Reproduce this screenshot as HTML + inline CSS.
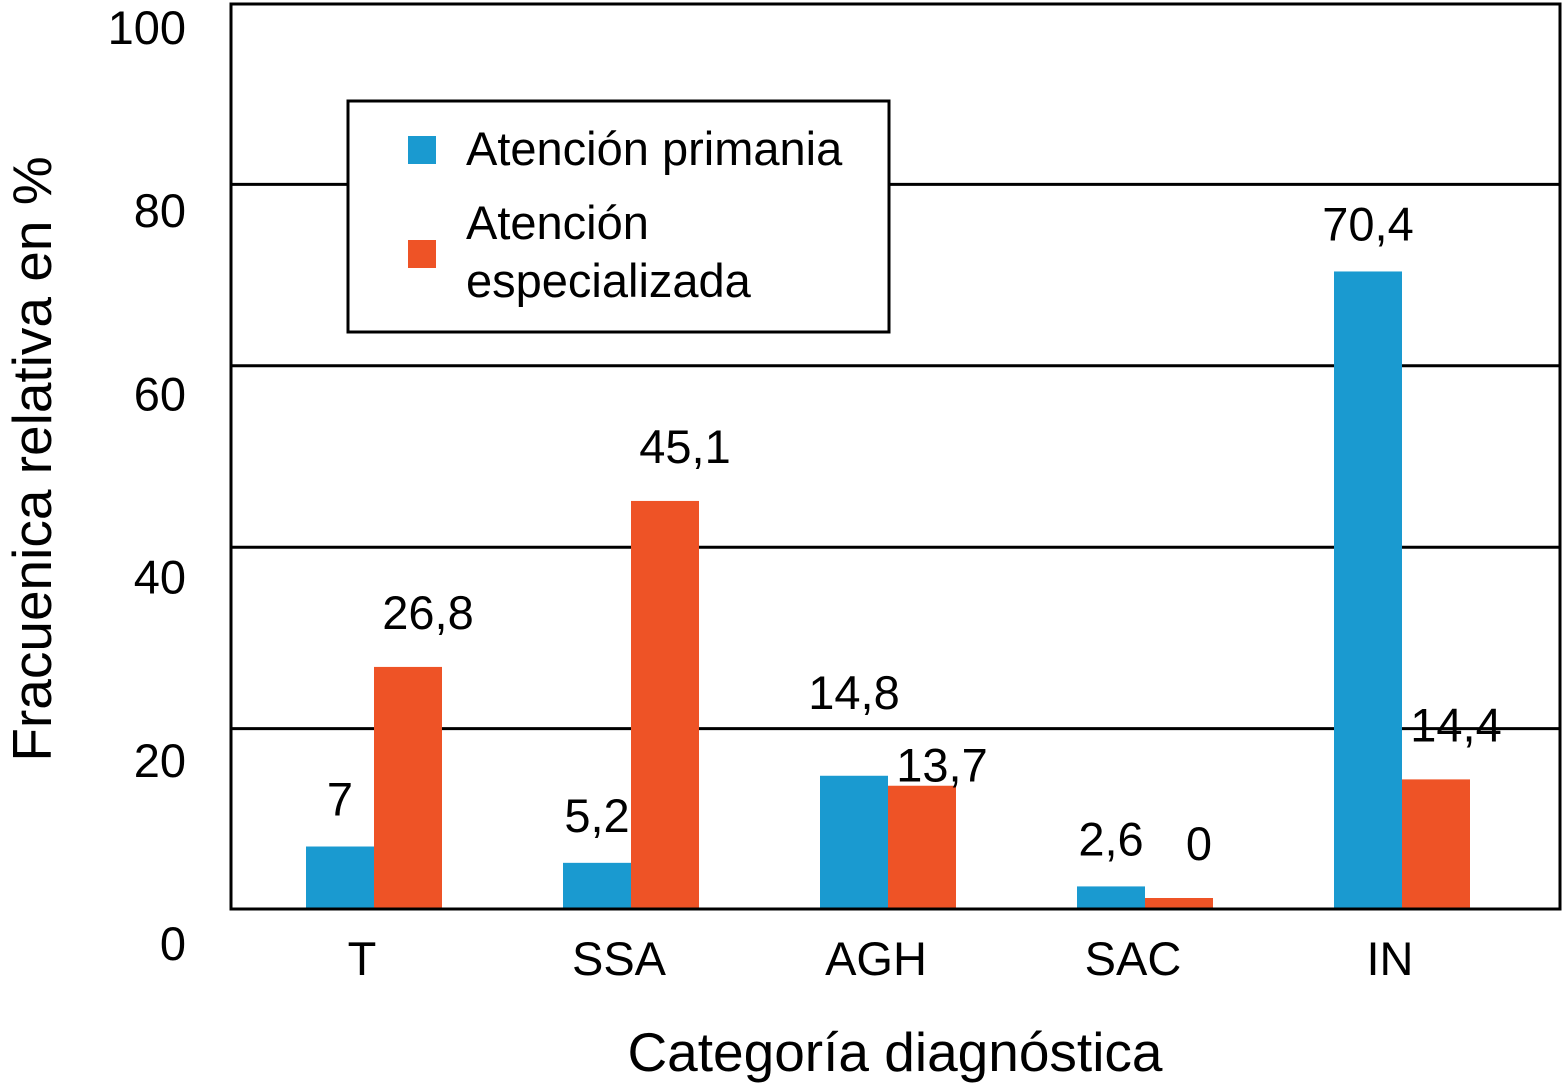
<!DOCTYPE html>
<html><head><meta charset="utf-8"><style>
html,body{margin:0;padding:0;background:#fff}
svg{display:block;font-family:"Liberation Sans",Arial,sans-serif}
</style></head><body>
<svg id="chart" width="1562" height="1083" viewBox="0 0 1562 1083" xmlns="http://www.w3.org/2000/svg">
<g id="grid"></g>
<g id="bars"></g>
<g id="labels"></g>
<g id="yticks"></g>
<g id="xticks"></g>
<rect x="231" y="4" width="1329" height="905" fill="none" stroke="#000" stroke-width="3"/>
<g>
<rect x="348" y="101" width="541" height="231" fill="#fff" stroke="#000" stroke-width="3"/>
<rect x="408" y="136" width="28" height="28" fill="#1a9ad0"/>
<text x="466" y="165" font-size="47">Atención primania</text>
<rect x="408" y="240" width="28" height="28" fill="#ee5326"/>
<text x="466" y="239" font-size="47">Atención</text>
<text x="466" y="297" font-size="47">especializada</text>
</g>
<text transform="translate(51,459) rotate(-90)" text-anchor="middle" font-size="55">Fracuenica relativa en %</text>
<text x="895" y="1071" text-anchor="middle" font-size="55">Categoría diagnóstica</text>
</svg>
<script>
const categories = ["T","SSA","AGH","SAC","IN"];
const primaria = [7,5.2,14.8,2.6,70.4];
const especializada = [26.8,45.1,13.7,0,14.4];
const primariaLabels = ["7","5,2","14,8","2,6","70,4"];
const especializadaLabels = ["26,8","45,1","13,7","0","14,4"];
const yTicks = [0,20,40,60,80,100];

const NS="http://www.w3.org/2000/svg";
const y0=910, pxPerUnit=9.07;
function yScale(v){return y0 - v*pxPerUnit;}
function xCenter(i){return 374 + i*257;}
const bw=68;
function mk(tag,attrs,parent,text){const e=document.createElementNS(NS,tag);for(const k in attrs)e.setAttribute(k,attrs[k]);if(text!==undefined)e.textContent=text;document.getElementById(parent).appendChild(e);return e;}

yTicks.forEach(function(t){
  if(t>0&&t<100){
    const l=mk('line',{x1:231,x2:1560,y1:yScale(t),y2:yScale(t),stroke:'#000','stroke-width':3},'grid');
    
    
  }
  const tx=mk('text',{x:186,y:943-9.16*t+17,'text-anchor':'end','font-size':47},'yticks',String(t));
  
  
});

categories.forEach(function(c,i){
  const cx=xCenter(i);
  const hp=Math.max(y0-yScale(primaria[i]),12);
  const b1=mk('rect',{x:cx-bw,y:y0-hp,width:bw,height:hp-1,fill:'#1a9ad0'},'bars');
  
  
  const he=Math.max(y0-yScale(especializada[i]),12);
  const b2=mk('rect',{x:cx,y:y0-he,width:bw,height:he-1,fill:'#ee5326'},'bars');
  
  
  const close = Math.abs(hp-he) < 40 && hp > 60 && he > 60;
  const l1=mk('text',{x:cx-bw/2,y:y0-hp-(close?84:48)+17,'text-anchor':'middle','font-size':47},'labels',primariaLabels[i]);
  
  
  const l2=mk('text',{x:cx+bw/2+20,y:y0-he-(close?21:55)+17,'text-anchor':'middle','font-size':47},'labels',especializadaLabels[i]);
  
  
  const xt=mk('text',{x:cx-12,y:975,'text-anchor':'middle','font-size':47},'xticks',c);
  
  
});
</script>
</body></html>
